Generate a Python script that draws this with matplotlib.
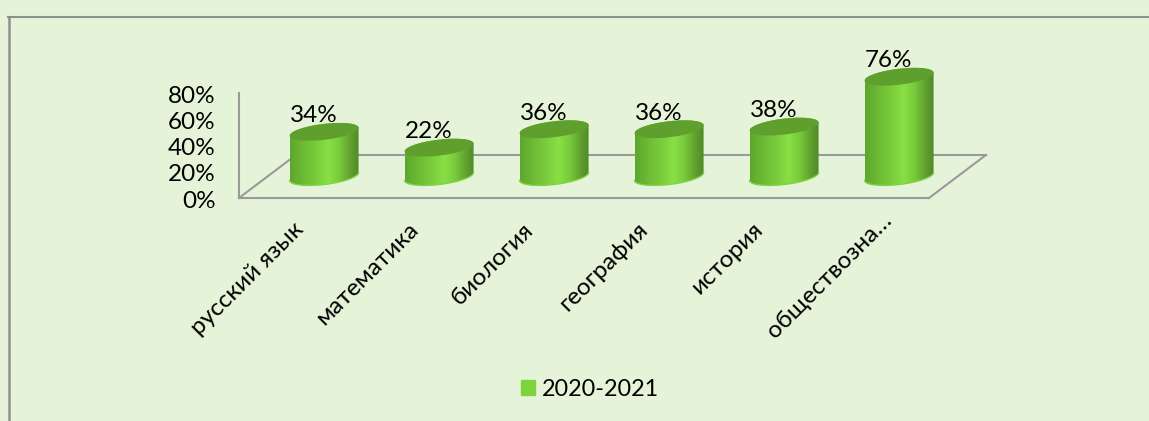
"""Recreate the 3D style cylinder bar chart with plain matplotlib."""
import matplotlib
matplotlib.use("Agg")
import matplotlib.pyplot as plt
import numpy as np
from matplotlib.colors import LinearSegmentedColormap
from matplotlib.lines import Line2D
from matplotlib.patches import Patch, Polygon
from matplotlib.path import Path

subjects = ["русский язык", "математика", "биология", "география", "история",
            "обществозна…"]
values = [34, 22, 36, 36, 38, 76]
yticks = [0, 20, 40, 60, 80]
series_name = "2020-2021"

W, H = 1149, 421
BG = "#e5f4d9"
GRID = "#9a9a9a"
FONT = ["Lato", "Open Sans", "DejaVu Sans"]
FS = 17.5

# size of the fake depth and the cylinders, in data units
DEPTH_X, DEPTH_Y = 0.4957, 32.8
RX, RY, TILT = 0.30, 6.1, 3.0

plt.rcParams["font.family"] = FONT

body_cmap = LinearSegmentedColormap.from_list(
    "body",
    [(0, "#5ea62e"), (0.18, "#6cb934"), (0.38, "#7acc3c"), (0.56, "#88e045"),
     (0.72, "#78ca3b"), (0.88, "#619f2e"), (1, "#4f8a28")],
)


def ellipse_xy(cx, cy, t):
    return cx + RX * np.cos(t), cy + RY * np.sin(t) + TILT * np.cos(t)


def draw_cylinder(ax, cx, base, top):
    # side surface: lower half of the base ellipse, upper part closed by top
    t_low = np.linspace(np.pi, 2 * np.pi, 60)
    t_up = np.linspace(0, np.pi, 60)
    xb, yb = ellipse_xy(cx, base, t_low)
    xt, yt = ellipse_xy(cx, top, t_up)
    pts = np.column_stack([np.r_[xb, xt], np.r_[yb, yt]])
    body = Polygon(pts, closed=True, transform=ax.transData, facecolor="none",
                   edgecolor="none")
    ax.add_patch(body)
    im = ax.imshow(np.linspace(0, 1, 256)[None, :], cmap=body_cmap, aspect="auto",
                   extent=(cx - RX, cx + RX, base - 12, top + 12), zorder=3,
                   interpolation="bilinear")
    im.set_clip_path(Path(pts), transform=ax.transData)
    im.set_clip_box(ax.figure.bbox)

    t = np.linspace(0, 2 * np.pi, 120)
    xc, yc = ellipse_xy(cx, top, t)
    ax.fill(xc, yc, color="#5f9f2d", lw=0, zorder=4, clip_on=False)
    ax.plot(xb, yb, color="#7fd340", lw=1.0, zorder=4, clip_on=False)


fig = plt.figure(figsize=(W / 100, H / 100), dpi=100, facecolor=BG)
ax = fig.add_axes([239 / W, 1 - 198 / H, 690 / W, 105 / H])
ax.patch.set_alpha(0)

# floor and back wall lines
x0, x1 = -0.5, len(subjects) - 0.5
ax.plot([x0, x0 + DEPTH_X], [0, DEPTH_Y], color=GRID, lw=1.5, zorder=1, clip_on=False)
ax.plot([x1, x1 + DEPTH_X], [0, DEPTH_Y], color=GRID, lw=1.5, zorder=1, clip_on=False)
ax.plot([x0 + DEPTH_X, x1 + DEPTH_X], [DEPTH_Y, DEPTH_Y], color=GRID, lw=1.5,
        zorder=1, clip_on=False)

base = DEPTH_Y / 2
for i, v in enumerate(values):
    cx = i + DEPTH_X / 2 - 0.008
    draw_cylinder(ax, cx, base, base + v)
    ax.annotate(f"{v}%", (cx, base + v), xytext=(-7.5, 11.5),
                textcoords="offset points", ha="center", va="center",
                fontsize=FS, color="black", zorder=5, annotation_clip=False)

ax.set_xlim(x0, x1)
ax.set_ylim(0, 80)
ax.set_xticks([])
ax.set_yticks([])

# tick labels sit off the usual spot, so they are placed as annotations
for i, name in enumerate(subjects):
    # the truncated last label sits further right and higher in the original
    off = (6.5, -8) if name.endswith("…") else (-3, -15)
    ax.annotate(name, (i, 0), xycoords=ax.get_xaxis_transform(), xytext=off,
                textcoords="offset points", fontsize=FS, rotation=45, ha="right",
                va="top", rotation_mode="anchor", annotation_clip=False)
for y in yticks:
    ax.annotate(f"{y}%", (0, y), xycoords=ax.get_yaxis_transform(), xytext=(-17, -0.8),
                textcoords="offset points", fontsize=FS, ha="right",
                va="center_baseline", annotation_clip=False)

for side in ("top", "right"):
    ax.spines[side].set_visible(False)
for side in ("left", "bottom"):
    ax.spines[side].set_color(GRID)
    ax.spines[side].set_linewidth(1.5)

# slide frame, only left and top sides are visible
frame = "#8f8f8f"
fig.add_artist(Line2D([8.7 / W, 8.7 / W], [0, 1 - 16.5 / H], color=frame, lw=1.8))
fig.add_artist(Line2D([8 / W, 1], [1 - 16.5 / H, 1 - 16.5 / H], color=frame, lw=1.5))

fig.legend(handles=[Patch(color="#7fd33c", label=series_name)],
           loc="center", bbox_to_anchor=(590 / W, 1 - 389.5 / H), frameon=False,
           fontsize=16.8, handlelength=0.6, handleheight=0.6, handletextpad=0.3)

fig.savefig("out.png", dpi=100, facecolor=BG)
